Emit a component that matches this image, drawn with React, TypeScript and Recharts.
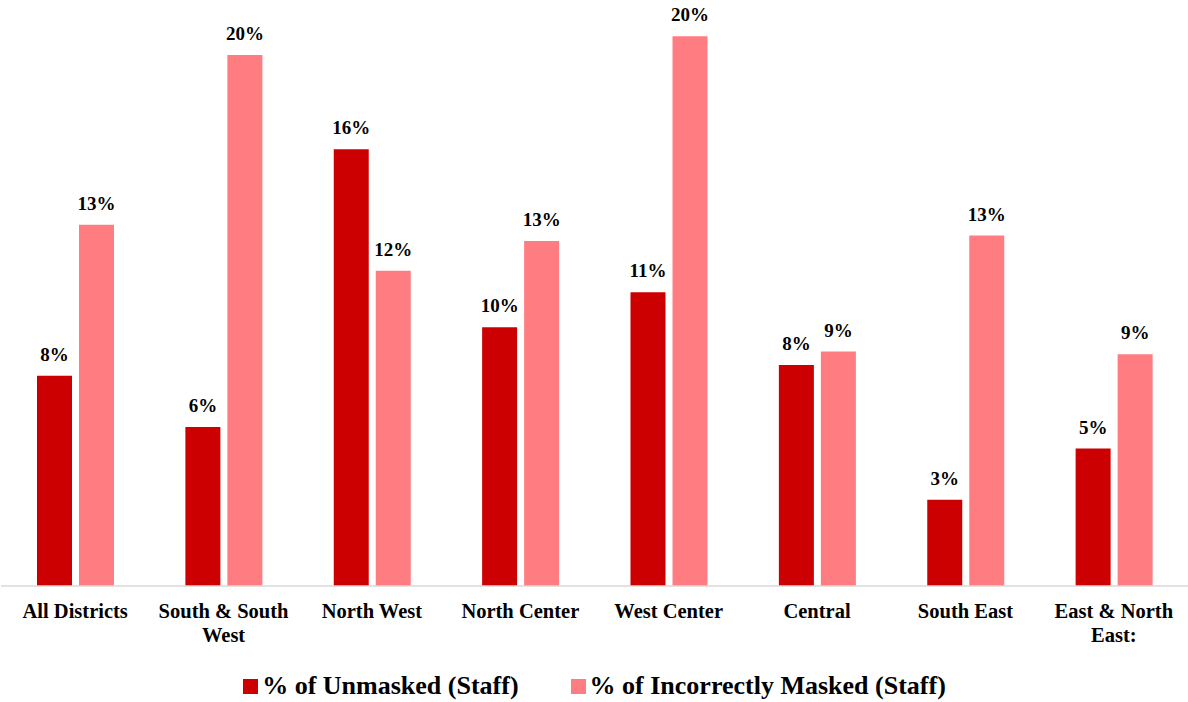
import React from "react";
import { BarChart, Bar, XAxis, YAxis, LabelList, Legend } from "recharts";

const categories = [
  "All Districts",
  "South & South West",
  "North West",
  "North Center",
  "West Center",
  "Central",
  "South East",
  "East & North East:",
];
const tickLines: string[][] = [
  ["All Districts"],
  ["South & South", "West"],
  ["North West"],
  ["North Center"],
  ["West Center"],
  ["Central"],
  ["South East"],
  ["East & North", "East:"],
];
const unmasked = [7.8, 5.9, 16.2, 9.6, 10.9, 8.2, 3.2, 5.1];
const incorrectlyMasked = [13.4, 19.7, 11.7, 12.8, 20.4, 8.7, 13.0, 8.6];
const seriesNames = ["% of Unmasked (Staff)", "% of Incorrectly Masked (Staff)"];
const colors = ["#CC0000", "#FF7C80"];

const data = categories.map((c, i) => ({
  name: c,
  unmasked: unmasked[i],
  incorrect: incorrectlyMasked[i],
}));

const FONT = "Liberation Serif";

const Tick = (props: any) => {
  const { x, y, payload } = props;
  const idx = categories.indexOf(payload.value);
  const lines = idx >= 0 ? tickLines[idx] : [payload.value];
  return (
    <text
      x={x}
      y={y}
      textAnchor="middle"
      fill="#000"
      style={{ fontFamily: FONT, fontWeight: "bold", fontSize: 20.5 }}
    >
      {lines.map((l, i) => (
        <tspan key={i} x={x} dy={i === 0 ? 32 : 24}>
          {l}
        </tspan>
      ))}
    </text>
  );
};

const LegendContent = () => (
  <div
    style={{
      height: 28,
      display: "flex",
      justifyContent: "center",
      alignItems: "center",
      fontFamily: FONT,
      fontWeight: "bold",
      fontSize: 26,
      color: "#000",
    }}
  >
    {seriesNames.map((n, i) => (
      <div
        key={n}
        style={{ display: "flex", alignItems: "center", marginRight: i === 0 ? 52 : 0 }}
      >
        <span
          style={{ width: 15, height: 15, background: colors[i], display: "inline-block", marginRight: 4 }}
        />
        <span>{n}</span>
      </div>
    ))}
  </div>
);

const fmt = (v: any) => `${Math.round(Number(v))}%`;

export default function App() {
  return (
    <div style={{ position: "absolute", left: 0, top: 0, width: 1188, height: 702, background: "#fff" }}>
      <BarChart
        width={1188}
        height={702}
        data={data}
        margin={{ top: 20, right: 0, left: 1, bottom: 2 }}
        barGap={7}
        barSize={35}
      >
        <YAxis hide domain={[0, 21]} />
        <XAxis
          dataKey="name"
          height={86}
          interval={0}
          tickLine={false}
          tickSize={0}
          tickMargin={0}
          axisLine={{ stroke: "#d9d9d9", strokeWidth: 1.5 }}
          tick={<Tick />}
        />
        <Legend verticalAlign="bottom" content={<LegendContent />} />
        <Bar dataKey="unmasked" name={seriesNames[0]} fill={colors[0]} isAnimationActive={false}>
          <LabelList
            dataKey="unmasked"
            position="top"
            offset={15}
            formatter={fmt}
            style={{ fontFamily: FONT, fontWeight: "bold", fontSize: 19, fill: "#000" }}
          />
        </Bar>
        <Bar dataKey="incorrect" name={seriesNames[1]} fill={colors[1]} isAnimationActive={false}>
          <LabelList
            dataKey="incorrect"
            position="top"
            offset={15}
            formatter={fmt}
            style={{ fontFamily: FONT, fontWeight: "bold", fontSize: 19, fill: "#000" }}
          />
        </Bar>
      </BarChart>
    </div>
  );
}
